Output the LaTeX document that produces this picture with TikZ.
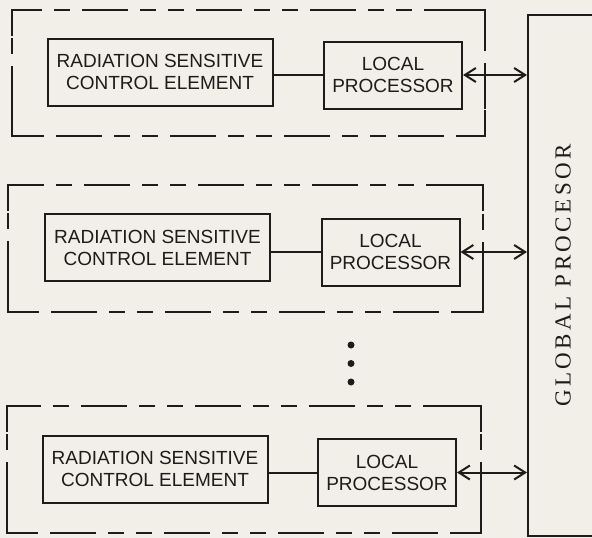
\documentclass[tikz,border=0pt]{standalone}
\usepackage{fontspec}
\usepackage{graphicx}
\setmainfont{Liberation Sans}
\newfontfamily\globfont[LetterSpace=15]{Liberation Serif}
\usetikzlibrary{arrows.meta}
\definecolor{paper}{RGB}{242,238,232}
\definecolor{ink}{RGB}{30,28,26}

\begin{document}
\begin{tikzpicture}[
    x=1pt, y=-1pt,
    every node/.style={font=\fontsize{19}{22}\selectfont, text=ink},
    sensor/.style={rectangle, draw=ink, line width=2pt, minimum width=225pt, minimum height=67pt, align=center, inner sep=0pt},
    localproc/.style={rectangle, draw=ink, line width=2pt, minimum width=138pt, minimum height=67pt, align=center, inner sep=0pt},
    globalproc/.style={rectangle, draw=ink, line width=2pt, minimum width=70pt, minimum height=521pt, inner sep=0pt},
    frame/.style={draw=ink, line width=2pt, dash pattern=on 16pt off 12pt on 16pt off 12pt on 46pt off 12pt},
    corner/.style={draw=ink, line width=2pt},
    link/.style={draw=ink, line width=2pt},
    biarrow/.style={{Straight Barb[length=11pt,width=14pt]}-{Straight Barb[length=11pt,width=14pt]}, draw=ink, line width=2pt},
    dot/.style={circle, fill=ink, inner sep=0pt, minimum size=7pt}
]
\useasboundingbox (0,0) rectangle (592,538);
\fill[paper] (0,0) rectangle (592,538);
\clip (0,0) rectangle (592,538);

% dashed panel frames
\foreach \xa/\ya/\xb/\yb in {12/10/485/136, 8/185/483/312, 7/406/481/533}{
  \draw[frame] (\xa,\ya) rectangle (\xb,\yb);
  \draw[corner] (\xa,\ya+26) |- (\xa+26,\ya);
  \draw[corner] (\xb-26,\ya) -| (\xb,\ya+26);
  \draw[corner] (\xb,\yb-26) |- (\xb-26,\yb);
  \draw[corner] (\xa+26,\yb) -| (\xa,\yb-26);
}

\node[globalproc] (glob) at (563,275.5) {\rotatebox{90}{\globfont\fontsize{23}{26}\selectfont GLOBAL PROCESOR}};

\node[sensor] (rse1) at (160,72) {RADIATION SENSITIVE\\CONTROL ELEMENT};
\node[localproc] (lp1) at (393,75) {LOCAL\\PROCESSOR};
\node[sensor] (rse2) at (157.5,247.5) {RADIATION SENSITIVE\\CONTROL ELEMENT};
\node[localproc] (lp2) at (390.5,252) {LOCAL\\PROCESSOR};
\node[sensor] (rse3) at (155,469) {RADIATION SENSITIVE\\CONTROL ELEMENT};
\node[localproc] (lp3) at (387,472.5) {LOCAL\\PROCESSOR};

\node[dot] (dot1) at (351,345) {};
\node[dot] (dot2) at (351,363.5) {};
\node[dot] (dot3) at (351,382) {};

\draw[link] (rse1.east |- lp1.west) -- (lp1.west);
\draw[link] (rse2.east |- lp2.west) -- (lp2.west);
\draw[link] (rse3.east |- lp3.west) -- (lp3.west);

\draw[biarrow] (lp1.east) -- (lp1.east -| glob.west);
\draw[biarrow] (lp2.east) -- (lp2.east -| glob.west);
\draw[biarrow] (lp3.east) -- (lp3.east -| glob.west);
\end{tikzpicture}
\end{document}
